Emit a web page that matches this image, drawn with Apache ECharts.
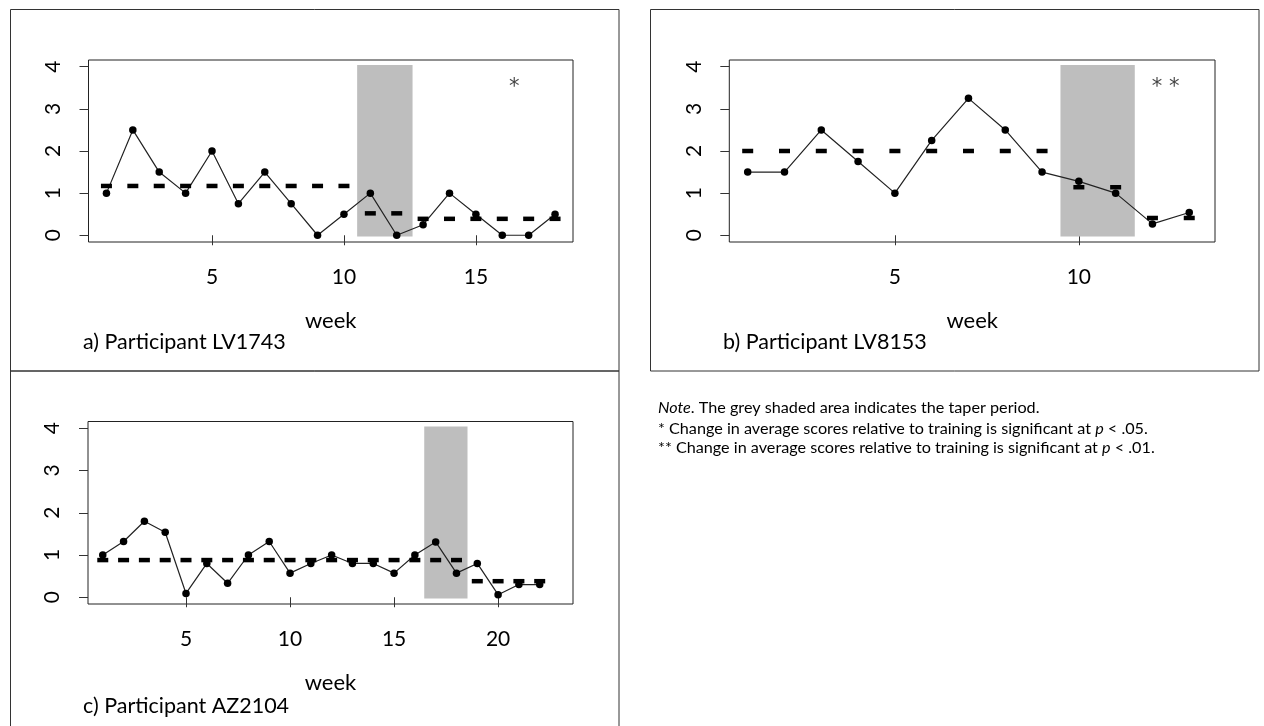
<!DOCTYPE html>
<html>
<head>
<meta charset="utf-8">
<title>Taper charts</title>
<script src="https://cdn.jsdelivr.net/npm/echarts@6/dist/echarts.min.js"></script>
<style>
  html, body { margin: 0; padding: 0; background: #fff; }
  #main { width: 1264px; height: 726px; }
</style>
</head>
<body>
<div id="main"></div>
<script type="text/javascript">
// week numbers per participant
var weeksA = [1, 2, 3, 4, 5, 6, 7, 8, 9, 10, 11, 12, 13, 14, 15, 16, 17, 18];
var weeksB = [1, 2, 3, 4, 5, 6, 7, 8, 9, 10, 11, 12, 13];
var weeksC = [1, 2, 3, 4, 5, 6, 7, 8, 9, 10, 11, 12, 13, 14, 15, 16, 17, 18, 19, 20, 21, 22];

// weekly scores
var scoresA = [1.0, 2.5, 1.5, 1.0, 2.0, 0.75, 1.5, 0.75, 0.0, 0.5, 1.0, 0.0, 0.25, 1.0, 0.5, 0.0, 0.0, 0.5];
var scoresB = [1.5, 1.5, 2.5, 1.75, 1.0, 2.25, 3.25, 2.5, 1.5, 1.28, 1.0, 0.27, 0.54];
var scoresC = [1.0, 1.32, 1.8, 1.54, 0.09, 0.8, 0.33, 1.0, 1.32, 0.57, 0.8, 1.0, 0.8, 0.8, 0.57, 1.0, 1.31, 0.57, 0.8, 0.06, 0.3, 0.3];

// phase averages (dashed marks)
var meansA = [1.17, 1.17, 1.17, 1.17, 1.17, 1.17, 1.17, 1.17, 1.17, 1.17, 0.52, 0.52, 0.39, 0.39, 0.39, 0.39, 0.39, 0.39];
var meansB = [2.0, 2.0, 2.0, 2.0, 2.0, 2.0, 2.0, 2.0, 2.0, 1.14, 1.14, 0.41, 0.41];
var meansC = [0.88, 0.88, 0.88, 0.88, 0.88, 0.88, 0.88, 0.88, 0.88, 0.88, 0.88, 0.88, 0.88, 0.88, 0.88, 0.88, 0.88, 0.88, 0.38, 0.38, 0.38, 0.38];

// taper period [from, to, bottom, top]
var taperA = [10.5, 12.6, -0.03, 4.04];
var taperB = [9.5, 11.52, -0.03, 4.04];
var taperC = [16.45, 18.53, -0.03, 4.04];

// tick labels
var xTicksA = [5, 10, 15];
var xTicksB = [5, 10];
var xTicksC = [5, 10, 15, 20];
var yTicks = [0, 1, 2, 3, 4];

var FONT = 'Lato';

function pairs(xs, ys) {
    var out = [];
    for (var i = 0; i < xs.length; i++) out.push([xs[i], ys[i]]);
    return out;
}

function xAxisFor(idx, min, max, ticks) {
    return {
        type: 'value', gridIndex: idx, min: min, max: max,
        name: 'week', nameLocation: 'middle', nameGap: 68,
        nameTextStyle: { fontFamily: FONT, fontSize: 22, color: '#000' },
        axisLine: { show: false },
        splitLine: { show: false },
        axisTick: { show: true, length: 10, customValues: ticks, lineStyle: { color: '#333' } },
        axisLabel: { customValues: ticks, margin: 25, fontFamily: FONT, fontSize: 21, color: '#000' }
    };
}

function yAxisFor(idx) {
    return {
        type: 'value', gridIndex: idx, min: -0.16, max: 4.16,
        axisLine: { show: false },
        splitLine: { show: false },
        axisTick: { show: true, length: 9, customValues: yTicks, lineStyle: { color: '#333' } },
        axisLabel: { customValues: yTicks, rotate: 90, margin: 25, fontFamily: FONT, fontSize: 21, color: '#000' }
    };
}

function taperSeries(idx, t) {
    return {
        type: 'custom', xAxisIndex: idx, yAxisIndex: idx, z: 1, silent: true,
        data: [t],
        renderItem: function (params, api) {
            var p0 = api.coord([api.value(0), api.value(3)]);
            var p1 = api.coord([api.value(1), api.value(2)]);
            return { type: 'rect', shape: { x: p0[0], y: p0[1], width: p1[0] - p0[0], height: p1[1] - p0[1] },
                     style: { fill: '#bebebe' } };
        }
    };
}

function scoreSeries(idx, xs, ys) {
    return {
        type: 'line', xAxisIndex: idx, yAxisIndex: idx, z: 2, silent: true,
        data: pairs(xs, ys), symbol: 'circle', symbolSize: 7.5, showAllSymbol: true,
        lineStyle: { color: '#222', width: 1.2 },
        itemStyle: { color: '#000', opacity: 1 }
    };
}

function meanSeries(idx, xs, ys) {
    return {
        type: 'scatter', xAxisIndex: idx, yAxisIndex: idx, z: 3, silent: true,
        data: pairs(xs, ys), symbol: 'rect', symbolSize: [11, 4.5],
        itemStyle: { color: '#000', opacity: 1 }
    };
}

function starSeries(idx, x, y, txt) {
    return {
        type: 'scatter', xAxisIndex: idx, yAxisIndex: idx, z: 4, silent: true,
        data: [[x, y]], symbolSize: 1, itemStyle: { color: 'rgba(0,0,0,0)' },
        label: { show: true, position: 'inside', formatter: txt, fontFamily: 'DejaVu Sans', fontSize: 21, color: '#111', offset: [0, 5] }
    };
}

var chart = echarts.init(document.getElementById('main'), null, { renderer: 'canvas' });
chart.setOption({
    animation: false,
    backgroundColor: '#fff',
    grid: [
        { left: 88.5, top: 60, width: 484.5, height: 182, show: true, borderColor: '#222', borderWidth: 1 },
        { left: 729.3, top: 60, width: 485.7, height: 182, show: true, borderColor: '#222', borderWidth: 1 },
        { left: 88, top: 421.5, width: 485, height: 182.5, show: true, borderColor: '#222', borderWidth: 1 }
    ],
    xAxis: [
        xAxisFor(0, 0.32, 18.68, xTicksA),
        xAxisFor(1, 0.5, 13.7, xTicksB),
        xAxisFor(2, 0.29, 23.6, xTicksC)
    ],
    yAxis: [yAxisFor(0), yAxisFor(1), yAxisFor(2)],
    series: [
        taperSeries(0, taperA), scoreSeries(0, weeksA, scoresA), meanSeries(0, weeksA, meansA), starSeries(0, 16.45, 3.62, '*'),
        taperSeries(1, taperB), scoreSeries(1, weeksB, scoresB), meanSeries(1, weeksB, meansB), starSeries(1, 12.36, 3.62, '* *'),
        taperSeries(2, taperC), scoreSeries(2, weeksC, scoresC), meanSeries(2, weeksC, meansC)
    ],
    graphic: [
        { type: 'rect', shape: { x: 10.5, y: 9.5, width: 608.5, height: 361.5 }, style: { fill: 'none', stroke: '#333', lineWidth: 1 } },
        { type: 'rect', shape: { x: 10.5, y: 371, width: 608.5, height: 360 }, style: { fill: 'none', stroke: '#333', lineWidth: 1 } },
        { type: 'rect', shape: { x: 650.5, y: 9.5, width: 608.5, height: 361.5 }, style: { fill: 'none', stroke: '#333', lineWidth: 1 } },
        { type: 'text', left: 83, top: 331, style: { text: 'a) Participant LV1743', font: '21.5px Lato', fill: '#000' } },
        { type: 'text', left: 723, top: 331, style: { text: 'b) Participant LV8153', font: '21.5px Lato', fill: '#000' } },
        { type: 'text', left: 83, top: 695, style: { text: 'c) Participant AZ2104', font: '21.5px Lato', fill: '#000' } },
        { type: 'text', left: 658, top: 400, style: {
            text: '{i|Note}. The grey shaded area indicates the taper period.',
            rich: { i: { fontStyle: 'italic', fontFamily: FONT, fontSize: 16.2, fill: '#000' } },
            fontFamily: FONT, fontSize: 16.2, fill: '#000' } },
        { type: 'text', left: 658, top: 421, style: {
            text: '* Change in average scores relative to training is significant at {i|p} < .05.',
            rich: { i: { fontStyle: 'italic', fontFamily: FONT, fontSize: 16.2, fill: '#000' } },
            fontFamily: FONT, fontSize: 16.2, fill: '#000' } },
        { type: 'text', left: 658, top: 440, style: {
            text: '** Change in average scores relative to training is significant at {i|p} < .01.',
            rich: { i: { fontStyle: 'italic', fontFamily: FONT, fontSize: 16.2, fill: '#000' } },
            fontFamily: FONT, fontSize: 16.2, fill: '#000' } }
    ]
});
</script>
</body>
</html>
